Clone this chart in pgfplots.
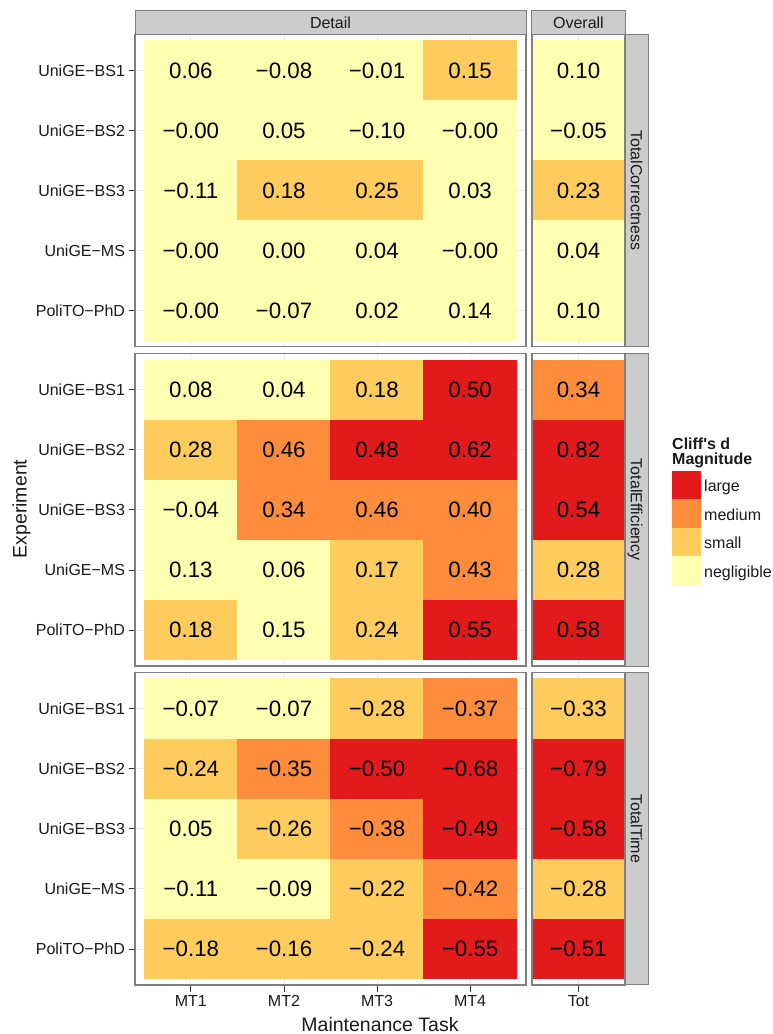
\documentclass[border=0pt]{standalone}
\usepackage{fontspec}
\setmainfont{Liberation Sans}
\usepackage{pgfplots}
\usepackage{pgfplotstable}
\pgfplotsset{compat=1.18}

\definecolor{cN}{HTML}{FFFFB2}
\definecolor{cS}{HTML}{FECC5C}
\definecolor{cM}{HTML}{FD8D3C}
\definecolor{cL}{HTML}{E31A1C}
\definecolor{grey50}{HTML}{7F7F7F}
\definecolor{grey80}{HTML}{CCCCCC}
\definecolor{grey90}{HTML}{EBEBEB}
\definecolor{txt}{HTML}{1A1A1A}

\pgfdeclareplotmark{tile}{%
  \pgfpathrectangle{\pgfpoint{-46.65pt}{-30.15pt}}{\pgfpoint{93.3pt}{60.3pt}}%
  \pgfusepathqfill}
\pgfdeclareplotmark{blank}{}

\def\fixminus#1{\ifx-#1\char"2212\relax\else#1\fi}

% y: 5=UniGE-BS1, 4=UniGE-BS2, 3=UniGE-BS3, 2=UniGE-MS, 1=PoliTO-PhD
\pgfplotstableread{
x y v c
1 5 0.06 n
2 5 -0.08 n
3 5 -0.01 n
4 5 0.15 s
1 4 -0.00 n
2 4 0.05 n
3 4 -0.10 n
4 4 -0.00 n
1 3 -0.11 n
2 3 0.18 s
3 3 0.25 s
4 3 0.03 n
1 2 -0.00 n
2 2 0.00 n
3 2 0.04 n
4 2 -0.00 n
1 1 -0.00 n
2 1 -0.07 n
3 1 0.02 n
4 1 0.14 n
}\corrD
\pgfplotstableread{
x y v c
1 5 0.10 n
1 4 -0.05 n
1 3 0.23 s
1 2 0.04 n
1 1 0.10 n
}\corrO
\pgfplotstableread{
x y v c
1 5 0.08 n
2 5 0.04 n
3 5 0.18 s
4 5 0.50 l
1 4 0.28 s
2 4 0.46 m
3 4 0.48 l
4 4 0.62 l
1 3 -0.04 n
2 3 0.34 m
3 3 0.46 m
4 3 0.40 m
1 2 0.13 n
2 2 0.06 n
3 2 0.17 s
4 2 0.43 m
1 1 0.18 s
2 1 0.15 n
3 1 0.24 s
4 1 0.55 l
}\effD
\pgfplotstableread{
x y v c
1 5 0.34 m
1 4 0.82 l
1 3 0.54 l
1 2 0.28 s
1 1 0.58 l
}\effO
\pgfplotstableread{
x y v c
1 5 -0.07 n
2 5 -0.07 n
3 5 -0.28 s
4 5 -0.37 m
1 4 -0.24 s
2 4 -0.35 m
3 4 -0.50 l
4 4 -0.68 l
1 3 0.05 n
2 3 -0.26 s
3 3 -0.38 m
4 3 -0.49 l
1 2 -0.11 n
2 2 -0.09 n
3 2 -0.22 s
4 2 -0.42 m
1 1 -0.18 s
2 1 -0.16 s
3 1 -0.24 s
4 1 -0.55 l
}\timeD
\pgfplotstableread{
x y v c
1 5 -0.33 s
1 4 -0.79 l
1 3 -0.58 l
1 2 -0.28 s
1 1 -0.51 l
}\timeO

\pgfplotsset{
  panel/.style={
    scale only axis, height=312.4pt, anchor=center,
    ymin=0.4, ymax=5.6, ytick={1,2,3,4,5},
    clip=false,
    axis line style={draw=none},
    grid=major, major grid style={draw=grey90, line width=0.8pt},
    tick align=outside, major tick length=6.5pt,
    tick style={draw=black!80, line width=0.9pt},
    tick pos=left,
    tick label style={font=\fontsize{16}{16}\selectfont, text=txt},
  },
  detail/.style={panel, width=391pt, xmin=0.4, xmax=4.6, xtick={1,2,3,4}},
  overall/.style={panel, width=93.1pt, xmin=0.5, xmax=1.5, xtick={1}},
  noxt/.style={xticklabels={}, xtick style={draw=none}},
  noyt/.style={yticklabels={}, ytick style={draw=none}},
  ylabs/.style={yticklabels={PoliTO−PhD,UniGE−MS,UniGE−BS3,UniGE−BS2,UniGE−BS1}},
}

\newcommand\tiles[1]{%
  \addplot[scatter, only marks, mark=tile, scatter src=explicit symbolic,
    scatter/classes={n={fill=cN},s={fill=cS},m={fill=cM},l={fill=cL}}]
    table[x=x,y=y,meta=c]{#1};
  \addplot[only marks, mark=blank, point meta=explicit symbolic,
    nodes near coords={\edef\tmplab{\pgfplotspointmeta}\expandafter\fixminus\tmplab},
    every node near coord/.append style={anchor=center, inner sep=0pt, text=black,
      font=\fontsize{22.3}{22.3}\selectfont}]
    table[x=x,y=y,meta=v]{#1};
}

\begin{document}
\begin{tikzpicture}
\path[use as bounding box] (0,0) rectangle (772pt,1034pt);

\begin{axis}[detail, noxt, ylabs, at={(330.5pt,843.5pt)}]
\tiles{\corrD}
\end{axis}
\begin{axis}[overall, noxt, noyt, at={(578.45pt,843.5pt)}]
\tiles{\corrO}
\end{axis}

\begin{axis}[detail, noxt, ylabs, at={(330.5pt,524.1pt)}]
\tiles{\effD}
\end{axis}
\begin{axis}[overall, noxt, noyt, at={(578.45pt,524.1pt)}]
\tiles{\effO}
\end{axis}

\begin{axis}[detail, ylabs, xticklabels={MT1,MT2,MT3,MT4}, at={(330.5pt,205.2pt)}]
\tiles{\timeD}
\end{axis}
\begin{axis}[overall, noyt, xticklabels={Tot}, at={(578.45pt,205.2pt)}]
\tiles{\timeO}
\end{axis}

% strips
\begin{scope}[fill=grey80, draw=grey50, line width=1pt]
\filldraw (135pt,999.7pt) rectangle (526pt,1023pt);
\filldraw (531.9pt,999.7pt) rectangle (625pt,1023pt);
\filldraw (625pt,687.3pt) rectangle (648.3pt,999.7pt);
\filldraw (625pt,367.9pt) rectangle (648.3pt,680.3pt);
\filldraw (625pt,49pt) rectangle (648.3pt,361.4pt);
\end{scope}
% panel borders
\begin{scope}[draw=grey50, line width=1.3pt]
\draw (135pt,687.3pt) rectangle (526pt,999.7pt);
\draw (531.9pt,687.3pt) rectangle (625pt,999.7pt);
\draw (135pt,367.9pt) rectangle (526pt,680.3pt);
\draw (531.9pt,367.9pt) rectangle (625pt,680.3pt);
\draw (135pt,49pt) rectangle (526pt,361.4pt);
\draw (531.9pt,49pt) rectangle (625pt,361.4pt);
\end{scope}
% strip texts
\begin{scope}[every node/.style={font=\fontsize{16}{16}\selectfont, text=txt, inner sep=0pt, text height=11.6pt, text depth=0pt}]
\node at (330.5pt,1011.35pt) {Detail};
\node at (578.45pt,1011.35pt) {Overall};
\node[rotate=-90] at (636.65pt,843.5pt) {TotalCorrectness};
\node[rotate=-90] at (636.65pt,524.1pt) {TotalEfficiency};
\node[rotate=-90] at (636.65pt,205.2pt) {TotalTime};
\end{scope}
% axis titles
\node[rotate=90, inner sep=0pt, font=\fontsize{19.5}{19.5}\selectfont, text=txt] at (21.5pt,525pt) {Experiment};
\node[anchor=base, inner sep=0pt, font=\fontsize{19.5}{19.5}\selectfont, text=txt] at (380pt,2.5pt) {Maintenance Task};
% legend
\node[anchor=base west, inner sep=0pt, font=\bfseries\fontsize{16}{16}\selectfont, text=txt] at (672pt,584.7pt) {Cliff\textquotesingle s d};
\node[anchor=base west, inner sep=0pt, font=\bfseries\fontsize{16}{16}\selectfont, text=txt] at (672pt,569pt) {Magnitude};
\fill[cL] (671.7pt,534.7pt) rectangle (701pt,563.3pt);
\fill[cM] (671.7pt,506.1pt) rectangle (701pt,534.7pt);
\fill[cS] (671.7pt,477.5pt) rectangle (701pt,506.1pt);
\fill[cN] (671.7pt,449pt) rectangle (701pt,477.5pt);
\begin{scope}[every node/.style={anchor=base west, inner sep=0pt, font=\fontsize{16}{16}\selectfont, text=txt}]
\node at (704pt,542.3pt) {large};
\node at (704pt,513.7pt) {medium};
\node at (704pt,485.1pt) {small};
\node at (704pt,456.5pt) {negligible};
\end{scope}
\end{tikzpicture}
\end{document}
